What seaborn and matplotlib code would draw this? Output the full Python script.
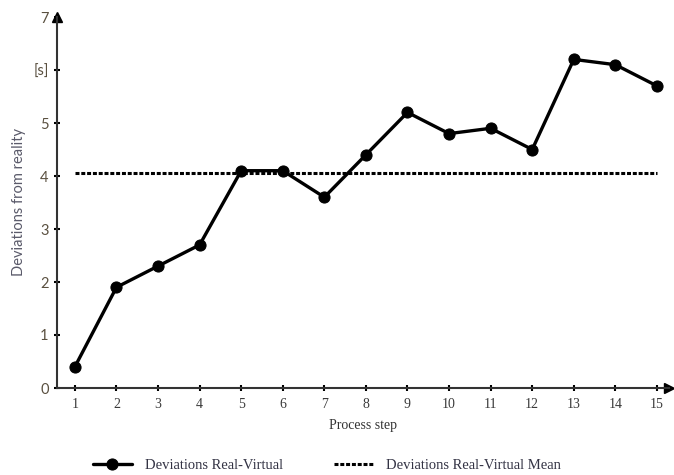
import matplotlib
matplotlib.use("Agg")
import matplotlib.pyplot as plt
import seaborn as sns
import pandas as pd

# Process steps and measured deviations between real and virtual process
steps = [1, 2, 3, 4, 5, 6, 7, 8, 9, 10, 11, 12, 13, 14, 15]
deviations = [0.4, 1.9, 2.3, 2.7, 4.1, 4.1, 3.6, 4.4, 5.2, 4.8, 4.9, 4.5, 6.2, 6.1, 5.7]
mean_value = 4.06

y_ticks = [0, 1, 2, 3, 4, 5, 6, 7]
y_tick_labels = ["0", "1", "2", "3", "4", "5", "[s]", "7"]

sns.set_style("white")
plt.rcParams["font.family"] = ["Liberation Serif", "DejaVu Serif"]

fig = plt.figure(figsize=(6.74, 4.75), dpi=100)
ax = fig.add_axes([57 / 674, 87 / 475, 612 / 674, 371 / 475])

df = pd.DataFrame({"step": steps, "deviation": deviations})
df_mean = pd.DataFrame({"step": [steps[0], steps[-1]], "deviation": [mean_value, mean_value]})

sns.lineplot(data=df, x="step", y="deviation", ax=ax, color="black", lw=2.4,
             marker="o", markersize=8, markeredgecolor="black",
             label="Deviations Real-Virtual")
sns.lineplot(data=df_mean, x="step", y="deviation", ax=ax, color="black", lw=2.2,
             dashes=False, label="Deviations Real-Virtual Mean")
ax.lines[-1].set_dashes([1.3, 0.6])

ax.set_xlim(0.57, 15.29)
ax.set_ylim(0, 7)

# axis spines with arrow heads
for side in ("top", "right"):
    ax.spines[side].set_visible(False)
for side in ("left", "bottom"):
    ax.spines[side].set_color("#333333")
    ax.spines[side].set_linewidth(1.5)
ax.plot(1, 0, marker=">", color="black", markersize=7, transform=ax.transAxes, clip_on=False)
ax.plot(0, 1, marker="^", color="black", markersize=7, transform=ax.transAxes, clip_on=False)

ax.set_xticks(steps)
ax.set_xticklabels([str(s) for s in steps], fontsize=10, color="#3a3a3a",
                   family=["Liberation Serif"])
ax.set_yticks(y_ticks)
ax.set_yticklabels(y_tick_labels, fontsize=10.5, color="#5a5040",
                   family=["Lato", "DejaVu Sans"])
ax.tick_params(axis="both", direction="inout", length=4, width=1.5, color="black",
               bottom=True, left=True, pad=5)
ax.tick_params(axis="y", pad=4)

ax.set_xlabel("Process step", fontsize=10, color="#333333", labelpad=6)
ax.set_ylabel("Deviations from reality", fontsize=10.5, color="#5a5a6a",
              family=["Lato", "DejaVu Sans"], labelpad=5)

ax.get_legend().remove()
handles, labels = ax.get_legend_handles_labels()
fig.legend(handles, labels, loc="center left", bbox_to_anchor=(93 / 674, 1 - 465 / 475),
           ncol=2, frameon=False, fontsize=10.5, handlelength=2.67, handletextpad=0.9,
           columnspacing=3.5, borderpad=0, borderaxespad=0, labelcolor="#333344")

fig.savefig("out.png", dpi=100)
